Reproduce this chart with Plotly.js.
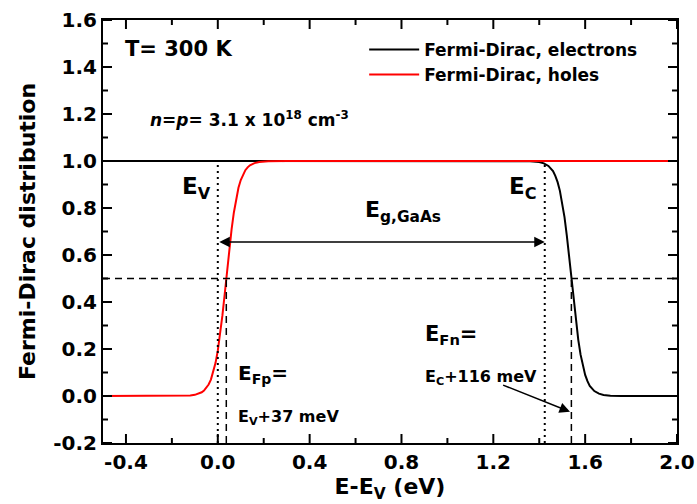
<!DOCTYPE html>
<html><head><meta charset="utf-8">
<script src="https://cdn.plot.ly/plotly-3.0.1.min.js"></script>
<style>html,body{margin:0;padding:0;background:#fff}</style>
</head><body><div id="chart" style="width:697px;height:504px"></div>
<script>
// ---- data ----
const electronE = [-0.5, 1.30, 1.36, 1.40, 1.42, 1.44, 1.45, 1.46, 1.47, 1.48, 1.49, 1.50, 1.51, 1.52, 1.53, 1.54, 1.55, 1.56, 1.57, 1.58, 1.59, 1.60, 1.61, 1.62, 1.64, 1.66, 1.68, 1.71, 1.76, 2.0];
const electronF = [1.0, 1.0, 0.999, 0.996, 0.990, 0.979, 0.970, 0.957, 0.937, 0.910, 0.873, 0.824, 0.761, 0.684, 0.595, 0.500, 0.405, 0.316, 0.239, 0.176, 0.127, 0.090, 0.063, 0.043, 0.021, 0.010, 0.0045, 0.0014, 0.0002, 0.0];
const holeE = [-0.5, -0.20, -0.15, -0.12, -0.10, -0.08, -0.07, -0.06, -0.05, -0.04, -0.03, -0.02, -0.01, 0.00, 0.01, 0.02, 0.03, 0.04, 0.05, 0.06, 0.07, 0.08, 0.09, 0.10, 0.11, 0.12, 0.13, 0.14, 0.16, 0.18, 0.22, 0.30, 2.0];
const holeF = [0.0, 0.0001, 0.0007, 0.0023, 0.005, 0.011, 0.016, 0.023, 0.034, 0.049, 0.070, 0.100, 0.140, 0.193, 0.261, 0.342, 0.433, 0.529, 0.623, 0.709, 0.781, 0.840, 0.886, 0.919, 0.944, 0.961, 0.973, 0.982, 0.991, 0.996, 0.999, 1.0, 1.0];
const seriesNames = ['Fermi-Dirac, electrons', 'Fermi-Dirac, holes'];
const xTickVals = [-0.4, 0.0, 0.4, 0.8, 1.2, 1.6, 2.0];
const xTickText = ['-0.4', '0.0', '0.4', '0.8', '1.2', '1.6', '2.0'];
const yTickVals = [-0.2, 0.0, 0.2, 0.4, 0.6, 0.8, 1.0, 1.2, 1.4, 1.6];
const yTickText = ['-0.2', '0.0', '0.2', '0.4', '0.6', '0.8', '1.0', '1.2', '1.4', '1.6'];
const xMinorVals = [-0.2, 0.2, 0.6, 1.0, 1.4, 1.8];
const yMinorVals = [-0.1, 0.1, 0.3, 0.5, 0.7, 0.9, 1.1, 1.3, 1.5];
const xRange = [-0.5, 2.0];
const yRange = [-0.2, 1.6];
// reference energies (eV) and levels
const E_V = 0.0, E_C = 1.424, E_Fp = 0.037, E_Fn = 1.540;
const halfLevel = 0.5, gapArrowLevel = 0.655;

const W = 697, H = 504;
const M = {l: 103, r: 20, t: 20, b: 61};
const plotW = W - M.l - M.r, plotH = H - M.t - M.b;

const FONT = 'DejaVu Sans, Arial, sans-serif';
const fnt = (s) => ({family: FONT, size: s, color: 'black'});
const B = (t) => '<b>' + t + '</b>';

const traces = [
  {x: electronE, y: electronF, type: 'scatter', mode: 'lines', name: B(seriesNames[0]),
   line: {color: 'black', width: 2}},
  {x: holeE, y: holeF, type: 'scatter', mode: 'lines', name: B(seriesNames[1]),
   line: {color: 'red', width: 2}}
];

const dotted = {color: 'black', width: 2, dash: '2px,4px'};
const dashed = {color: 'black', width: 1.5, dash: '7px,5px'};
const shapes = [
  {type: 'line', xref: 'x', yref: 'y', x0: xRange[0], x1: xRange[1], y0: halfLevel, y1: halfLevel, line: dashed},
  {type: 'line', xref: 'x', yref: 'y', x0: E_V, x1: E_V, y0: yRange[0], y1: 1.0, line: dotted},
  {type: 'line', xref: 'x', yref: 'y', x0: E_C, x1: E_C, y0: yRange[0], y1: 1.0, line: dotted},
  {type: 'line', xref: 'x', yref: 'y', x0: E_Fp, x1: E_Fp, y0: yRange[0], y1: halfLevel, line: dashed},
  {type: 'line', xref: 'x', yref: 'y', x0: E_Fn, x1: E_Fn, y0: yRange[0], y1: halfLevel, line: dashed}
];

// inward tick marks on all four sides, placed at the axis tick values
const tickLine = {color: 'black', width: 2};
const addXTicks = (vals, len) => vals.forEach(v => {
  shapes.push({type: 'line', xref: 'x', yref: 'paper', x0: v, x1: v, y0: 0, y1: len / plotH, line: tickLine});
  shapes.push({type: 'line', xref: 'x', yref: 'paper', x0: v, x1: v, y0: 1, y1: 1 - len / plotH, line: tickLine});
});
const addYTicks = (vals, len) => vals.forEach(v => {
  shapes.push({type: 'line', xref: 'paper', yref: 'y', x0: 0, x1: len / plotW, y0: v, y1: v, line: tickLine});
  shapes.push({type: 'line', xref: 'paper', yref: 'y', x0: 1, x1: 1 - len / plotW, y0: v, y1: v, line: tickLine});
});
addXTicks(xTickVals, 9); addXTicks(xMinorVals, 5);
addYTicks(yTickVals, 9); addYTicks(yMinorVals, 5);

const ann = (text, x, y, size, xanchor) => ({text: B(text), x, y, xref: 'x', yref: 'y', showarrow: false,
  xanchor: xanchor || 'left', yanchor: 'middle', font: fnt(size)});

const annotations = [
  ann('T= 300 K', -0.413, 1.475, 21),
  ann('<i>n</i>=<i>p</i>= 3.1 x 10<sup>18</sup> cm<sup>-3</sup>', -0.304, 1.177, 17),
  ann('E<sub>V</sub>', -0.021, 0.885, 23, 'right'),
  ann('E<sub>C</sub>', 1.399, 0.885, 23, 'right'),
  ann('E<sub>g,GaAs</sub>', 0.632, 0.785, 22),
  ann('E<sub>Fp</sub>=', 0.079, 0.095, 20),
  ann('E<sub>V</sub>+37 meV', 0.079, -0.09, 16),
  ann('E<sub>Fn</sub>=', 0.894, 0.258, 21),
  ann('E<sub>C</sub>+116 meV', 0.894, 0.078, 16),
  {x: E_C, y: gapArrowLevel, ax: E_V, ay: gapArrowLevel, xref: 'x', yref: 'y', axref: 'x', ayref: 'y',
   text: '', showarrow: true, arrowhead: 2, startarrowhead: 2, arrowside: 'end+start',
   arrowsize: 1.4, startarrowsize: 1.4, arrowwidth: 1.5, arrowcolor: 'black'},
  {x: 1.534, y: -0.067, ax: 1.236, ay: 0.049, xref: 'x', yref: 'y', axref: 'x', ayref: 'y',
   text: '', showarrow: true, arrowhead: 2, arrowsize: 1.4, arrowwidth: 1.5, arrowcolor: 'black'}
];

const layout = {
  width: W, height: H,
  margin: M,
  showlegend: true,
  legend: {x: 0.455, y: 0.972, xanchor: 'left', yanchor: 'top', font: fnt(17),
           bgcolor: 'rgba(0,0,0,0)', borderwidth: 0, itemwidth: 50},
  xaxis: {range: xRange, showline: true, linecolor: 'black', linewidth: 2, mirror: true,
    ticks: '', showgrid: false, zeroline: false,
    tickvals: xTickVals, ticktext: xTickText.map(B), tickfont: fnt(20),
    title: {text: B('E-E<sub>V</sub> (eV)'), font: fnt(22), standoff: 4}},
  yaxis: {range: yRange, showline: true, linecolor: 'black', linewidth: 2, mirror: true,
    ticks: '', showgrid: false, zeroline: false,
    tickvals: yTickVals, ticktext: yTickText.map(B), tickfont: fnt(20),
    title: {text: B('Fermi-Dirac distribution'), font: fnt(22), standoff: 12}},
  shapes, annotations
};

Plotly.newPlot('chart', traces, layout, {displayModeBar: false});
</script></body></html>
